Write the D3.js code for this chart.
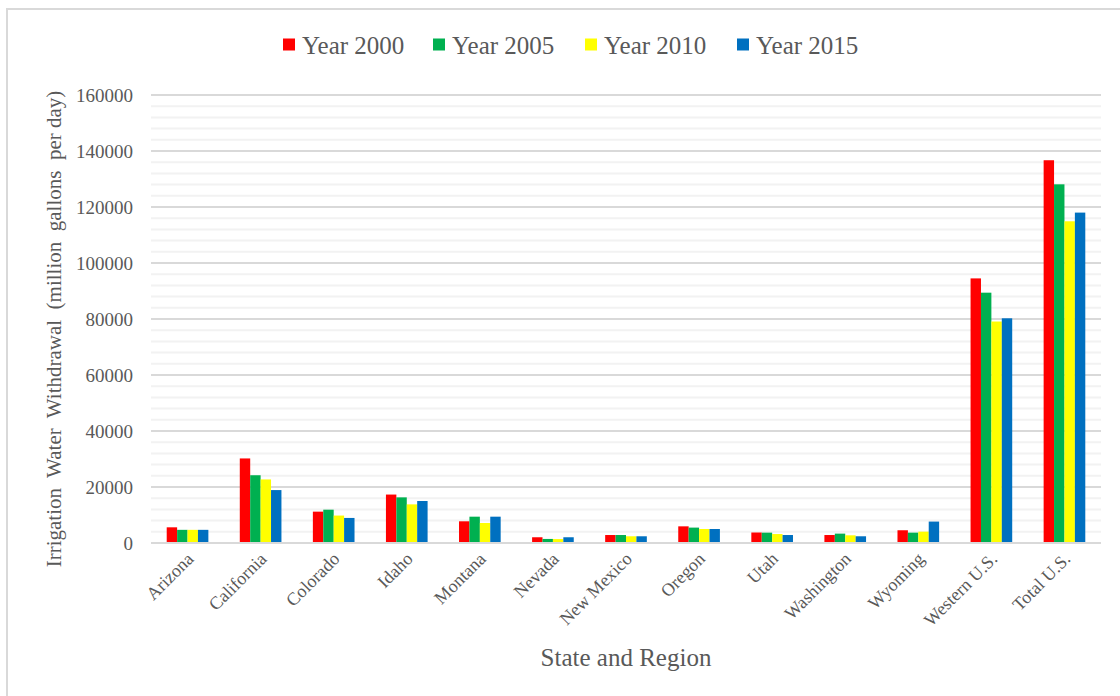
<!DOCTYPE html>
<html><head><meta charset="utf-8">
<script src="https://cdn.jsdelivr.net/npm/d3@7"></script>
<style>
html,body{margin:0;padding:0;background:#fff;}
svg{display:block;}
text{font-family:"Liberation Serif","Times New Roman",serif;fill:#595959;}
</style></head><body>
<svg id="chart" width="1120" height="696"></svg>
<script>
const categories = ["Arizona","California","Colorado","Idaho","Montana","Nevada","New Mexico","Oregon","Utah","Washington","Wyoming","Western U.S.","Total U.S."];
const seriesNames = ["Year 2000","Year 2005","Year 2010","Year 2015"];
const seriesColors = ["#FF0000","#00B050","#FFFF00","#0070C0"];
const year2000 = [5600,30200,11200,17300,7750,2050,2850,5950,3750,2850,4550,94500,136700];
const year2005 = [4700,24200,11900,16300,9400,1450,2850,5500,3700,3350,3700,89400,128100];
const year2010 = [4700,22700,9800,13800,7150,1400,2400,5000,3200,2750,4050,79100,114900];
const year2015 = [4700,18900,8950,15000,9400,2050,2400,5000,2850,2400,7650,80250,118000];
const yTicks = [0,20000,40000,60000,80000,100000,120000,140000,160000];
const yTitle = "Irrigation  Water  Withdrawal  (million  gallons  per day)";
const xTitle = "State and Region";

(function(){
const series = [year2000, year2005, year2010, year2015];
const svg = d3.select("#chart");

// outer border
svg.append("rect").attr("x",7).attr("y",9).attr("width",1130).attr("height",700)
  .attr("fill","none").attr("stroke","#d9d9d9").attr("stroke-width",2);

const pL = 151, pR = 1101, pT = 95, pB = 543;
const x = d3.scaleBand().domain(categories).range([pL, pR]).paddingInner(0.43).paddingOuter(0.215);
const x1 = d3.scaleBand().domain(seriesNames).range([0, x.bandwidth()]);
const y = d3.scaleLinear().domain([0,160000]).range([pB, pT]);

// minor gridlines
const minor = d3.range(4000,160001,4000).filter(v => v % 20000 !== 0);
svg.append("g").selectAll("line").data(minor).join("line")
  .attr("x1",pL).attr("x2",pR).attr("y1",d=>y(d)).attr("y2",d=>y(d))
  .attr("stroke","#f2f2f2").attr("stroke-width",2);
// major gridlines
svg.append("g").selectAll("line").data(yTicks.filter(v=>v>0)).join("line")
  .attr("x1",pL).attr("x2",pR).attr("y1",d=>y(d)).attr("y2",d=>y(d))
  .attr("stroke","#d9d9d9").attr("stroke-width",2);

// y axis labels
const yAxis = d3.axisLeft(y).tickValues(yTicks).tickSize(0).tickPadding(18).tickFormat(d3.format("d"));
const gy = svg.append("g").attr("transform",`translate(${pL},0)`).call(yAxis);
gy.select(".domain").remove();
gy.selectAll("text").attr("font-size",19).attr("fill","#595959")
  .style("font-family","'Liberation Serif','Times New Roman',serif");

// bars
const groups = svg.append("g").selectAll("g").data(categories).join("g")
  .attr("transform", d => `translate(${x(d)},0)`);
groups.selectAll("rect").data((c,i) => seriesNames.map((s,j) => ({s, v: series[j][i], color: seriesColors[j]})))
  .join("rect")
  .attr("x", d => x1(d.s)).attr("width", x1.bandwidth())
  .attr("y", d => y(d.v)).attr("height", d => y(0) - y(d.v))
  .attr("fill", d => d.color);

// baseline
svg.append("line").attr("x1",pL).attr("x2",pR).attr("y1",y(0)).attr("y2",y(0))
  .attr("stroke","#d9d9d9").attr("stroke-width",2);

// x labels
const xAxis = d3.axisBottom(x).tickSize(0).tickPadding(0);
const gx = svg.append("g").attr("transform",`translate(0,${pB})`).call(xAxis);
gx.select(".domain").remove();
gx.selectAll("text")
  .attr("font-size",18).attr("fill","#595959")
  .style("font-family","'Liberation Serif','Times New Roman',serif")
  .attr("text-anchor","end").attr("dy",null).attr("y",0)
  .attr("transform","translate(7,17) rotate(-45)");

// axis titles
svg.append("text").attr("x",626).attr("y",666).attr("text-anchor","middle")
  .attr("font-size",25).style("white-space","pre").text(xTitle);
svg.append("text").attr("transform","translate(61,329) rotate(-90)").attr("text-anchor","middle")
  .attr("font-size",21).style("white-space","pre").text(yTitle);

// legend
const legendX = [283, 433, 585, 737];
const lg = svg.append("g").selectAll("g").data(seriesNames).join("g")
  .attr("transform",(d,i)=>`translate(${legendX[i]},45)`);
lg.append("rect").attr("x",0).attr("y",-6.5).attr("width",12).attr("height",12)
  .attr("fill",(d,i)=>seriesColors[i]);
lg.append("text").attr("x",19).attr("y",9).attr("font-size",25).text(d=>d);
})();
</script>
</body></html>
